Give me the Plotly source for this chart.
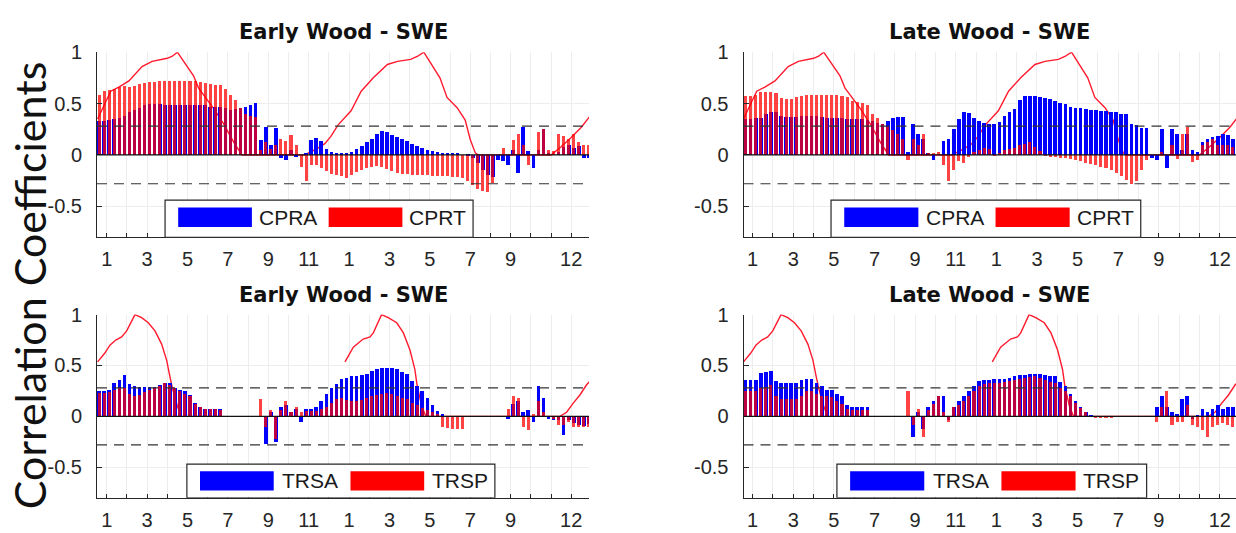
import plotly.graph_objects as go

# ---------------- data ----------------
STEP = 0.25          # bar spacing (months)
FIRST = 0.625        # centre of first bar (months)
N_BARS = 98
bar_x = [FIRST + STEP * k for k in range(N_BARS)]

MONTH_TICKS = list(range(1, 25))
MONTH_LABELS = ["1", "", "3", "", "5", "", "7", "", "9", "", "11", "",
                "1", "", "3", "", "5", "", "7", "", "9", "", "", "12"]
Y_TICKS = [-0.5, 0, 0.5, 1]
Y_LABELS = ["-0.5", "0", "0.5", "1"]
SIG = 0.28

# Early wood (top-left)
CPRA_EW = [0.33, 0.33, 0.34, 0.35, 0.36, 0.38, 0.42, 0.44,
           0.46, 0.48, 0.49, 0.49, 0.49, 0.48, 0.48, 0.48,
           0.48, 0.48, 0.48, 0.48, 0.48, 0.48, 0.47, 0.47,
           0.47, 0.46, 0.44, 0.45, 0.46, 0.47, 0.48, 0.50,
           0.14, 0.27, 0.10, 0.26, -0.03, -0.05, 0.05, -0.02,
           0.00, 0.02, 0.14, 0.16, 0.13, 0.06, 0.03, 0.01,
           0.01, 0.02, 0.03, 0.06, 0.09, 0.12, 0.15, 0.20,
           0.23, 0.22, 0.19, 0.17, 0.15, 0.13, 0.11, 0.09,
           0.07, 0.05, 0.04, 0.03, 0.02, 0.02, 0.01, 0.01,
           0.00, -0.01, -0.03, -0.08, -0.15, -0.20, -0.22, -0.05,
           -0.06, -0.10, 0.05, -0.18, 0.27, 0.04, -0.13, 0.05,
           0.25, 0.02, 0.00, 0.03, 0.08, 0.10, 0.07, 0.09,
           -0.03, -0.03]
CPRT_EW = [0.58, 0.62, 0.63, 0.64, 0.66, 0.67, 0.66, 0.67,
           0.69, 0.70, 0.71, 0.71, 0.72, 0.72, 0.72, 0.72,
           0.72, 0.72, 0.72, 0.72, 0.71, 0.70, 0.69, 0.68,
           0.68, 0.64, 0.58, 0.53, 0.46, 0.40, 0.38, 0.37,
           0.05, 0.12, 0.06, 0.10, 0.15, 0.13, 0.19, 0.10,
           -0.12, -0.25, -0.10, -0.10, -0.13, -0.16, -0.19, -0.20,
           -0.21, -0.23, -0.20, -0.17, -0.15, -0.13, -0.12, -0.11,
           -0.12, -0.14, -0.16, -0.18, -0.19, -0.19, -0.20, -0.20,
           -0.20, -0.20, -0.21, -0.21, -0.21, -0.21, -0.22, -0.22,
           -0.23, -0.25, -0.29, -0.33, -0.35, -0.36, -0.27, 0.00,
           0.07, 0.00, 0.14, 0.20, 0.10, -0.10, 0.00, 0.22,
           0.25, 0.05, 0.04, 0.20, 0.18, 0.15, 0.20, 0.12,
           0.10, 0.10]

# Late wood (top-right)
CPRA_LW = [0.35, 0.35, 0.36, 0.36, 0.40, 0.42, 0.42, 0.38,
           0.37, 0.37, 0.37, 0.38, 0.38, 0.38, 0.38, 0.37,
           0.36, 0.36, 0.36, 0.36, 0.35, 0.35, 0.35, 0.35,
           0.34, 0.33, 0.31, 0.30, 0.33, 0.36, 0.37, 0.37,
           0.03, 0.30, 0.20, 0.15, 0.02, -0.05, 0.00, 0.13,
           0.15, 0.25, 0.35, 0.42, 0.41, 0.36, 0.33, 0.31,
           0.30, 0.30, 0.32, 0.38, 0.42, 0.45, 0.53, 0.57,
           0.57, 0.57, 0.56, 0.55, 0.54, 0.52, 0.50, 0.49,
           0.47, 0.46, 0.46, 0.45, 0.44, 0.44, 0.43, 0.43,
           0.42, 0.42, 0.40, 0.40, 0.30, 0.29, 0.26, 0.26,
           -0.03, -0.05, 0.25, -0.13, 0.25, 0.20, 0.05, 0.20,
           0.05, 0.03, 0.12, 0.15, 0.17, 0.18, 0.20, 0.19,
           0.15, 0.12]
CPRT_LW = [0.57, 0.57, 0.58, 0.61, 0.61, 0.61, 0.60, 0.55,
           0.54, 0.54, 0.56, 0.57, 0.58, 0.58, 0.58, 0.58,
           0.58, 0.58, 0.58, 0.57, 0.56, 0.52, 0.51, 0.50,
           0.48, 0.40, 0.36, 0.30, 0.27, 0.24, 0.20, 0.15,
           -0.05, 0.15, 0.10, 0.20, 0.02, 0.02, 0.03, -0.10,
           -0.25, -0.15, -0.06, -0.08, -0.02, 0.03, 0.05, 0.07,
           0.06, -0.01, 0.02, 0.05, 0.06, 0.07, 0.10, 0.11,
           0.12, 0.08, 0.04, -0.01, -0.02, -0.02, -0.03, -0.03,
           -0.04, -0.05, -0.06, -0.08, -0.09, -0.10, -0.12, -0.13,
           -0.15, -0.18, -0.21, -0.24, -0.28, -0.25, -0.15, -0.05,
           0.00, 0.00, 0.03, 0.00, 0.10, -0.04, 0.20, 0.27,
           -0.07, -0.05, 0.10, 0.12, 0.15, 0.10, 0.10, 0.10,
           0.08, 0.08]

# Early wood (bottom-left)
TRSA_EW = [0.25, 0.25, 0.26, 0.33, 0.36, 0.41, 0.32, 0.30,
           0.29, 0.29, 0.29, 0.29, 0.31, 0.33, 0.33, 0.28,
           0.26, 0.25, 0.21, 0.14, 0.10, 0.08, 0.08, 0.08,
           0.08, 0.00, 0.00, 0.00, 0.00, 0.00, 0.00, 0.00,
           0.00, -0.27, 0.05, -0.25, 0.10, 0.12, 0.05, 0.08,
           -0.05, 0.08, 0.08, 0.10, 0.15, 0.22, 0.28, 0.32,
           0.37, 0.38, 0.40, 0.40, 0.41, 0.42, 0.45, 0.47,
           0.48, 0.48, 0.48, 0.47, 0.44, 0.42, 0.35, 0.30,
           0.25, 0.18, 0.12, 0.06, 0.03, 0.00, 0.00, 0.00,
           0.00, 0.00, 0.00, 0.00, 0.00, 0.00, 0.00, 0.00,
           0.00, -0.02, 0.13, 0.15, 0.05, 0.07, -0.05, 0.30,
           0.18, -0.02, -0.03, -0.03, -0.18, -0.03, -0.06, -0.08,
           -0.09, -0.07]
TRSP_EW = [0.23, 0.23, 0.24, 0.26, 0.28, 0.28, 0.22, 0.20,
           0.21, 0.24, 0.26, 0.28, 0.30, 0.33, 0.31, 0.28,
           0.25, 0.22, 0.20, 0.13, 0.10, 0.08, 0.08, 0.08,
           0.07, 0.00, 0.00, 0.00, 0.00, 0.00, 0.00, 0.00,
           0.17, -0.10, 0.07, -0.22, 0.07, 0.15, 0.05, 0.10,
           0.05, 0.06, 0.06, 0.06, 0.08, 0.10, 0.14, 0.17,
           0.18, 0.16, 0.15, 0.15, 0.16, 0.18, 0.20, 0.21,
           0.22, 0.23, 0.22, 0.20, 0.18, 0.17, 0.14, 0.12,
           0.09, 0.07, 0.05, 0.03, -0.10, -0.11, -0.12, -0.12,
           -0.12, 0.00, 0.00, 0.00, 0.00, 0.00, 0.00, 0.00,
           0.00, 0.08, 0.20, 0.18, -0.10, -0.13, 0.03, 0.15,
           0.05, 0.00, -0.02, -0.08, -0.08, -0.05, -0.10, -0.10,
           -0.10, -0.10]

# Late wood (bottom-right)
TRSA_LW = [0.36, 0.36, 0.36, 0.43, 0.44, 0.45, 0.35, 0.33,
           0.33, 0.33, 0.33, 0.36, 0.37, 0.37, 0.33, 0.30,
           0.26, 0.26, 0.22, 0.20, 0.12, 0.10, 0.10, 0.10,
           0.10, 0.00, 0.00, 0.00, 0.00, 0.00, 0.00, 0.00,
           0.00, -0.20, 0.05, -0.12, 0.10, 0.15, 0.20, 0.20,
           -0.03, 0.10, 0.15, 0.20, 0.25, 0.30, 0.35, 0.36,
           0.36, 0.37, 0.37, 0.37, 0.38, 0.40, 0.41, 0.41,
           0.42, 0.42, 0.42, 0.41, 0.40, 0.40, 0.34, 0.30,
           0.22, 0.15, 0.10, 0.05, 0.02, 0.00, 0.00, 0.00,
           0.00, 0.00, 0.00, 0.00, 0.00, 0.00, 0.00, 0.00,
           0.00, 0.10, 0.20, 0.10, 0.05, 0.03, 0.17, 0.20,
           -0.02, 0.02, 0.08, 0.05, 0.08, 0.12, 0.08, 0.10,
           0.10, 0.10]
TRSP_LW = [0.25, 0.25, 0.25, 0.28, 0.29, 0.31, 0.20, 0.17,
           0.17, 0.17, 0.17, 0.20, 0.25, 0.25, 0.22, 0.20,
           0.20, 0.19, 0.15, 0.13, 0.08, 0.07, 0.07, 0.07,
           0.07, 0.00, 0.00, 0.00, 0.00, 0.00, 0.00, 0.00,
           0.25, -0.08, 0.08, -0.20, 0.07, 0.13, 0.20, 0.05,
           -0.05, 0.10, 0.12, 0.15, 0.20, 0.25, 0.30, 0.32,
           0.33, 0.33, 0.33, 0.34, 0.35, 0.36, 0.37, 0.38,
           0.39, 0.40, 0.38, 0.36, 0.34, 0.33, 0.28, 0.25,
           0.20, 0.14, 0.09, 0.05, 0.01, -0.01, -0.01, -0.01,
           -0.01, 0.00, 0.00, 0.00, 0.00, 0.00, 0.00, 0.00,
           0.00, -0.05, 0.10, 0.25, -0.08, -0.05, -0.05, 0.12,
           -0.08, -0.10, -0.13, -0.20, -0.10, -0.08, -0.06, -0.08,
           -0.10, -0.08]

# normalised SWE curves (red lines)
SWE_TOP_X = [0.55, 1.2, 1.6, 2.1, 2.75, 3.25, 4.0, 4.25, 4.5, 4.9,
             5.3, 5.55, 5.9, 6.3, 6.8, 7.3, 7.7, 10.8, 11.4, 11.8,
             12.1, 12.45, 13.1, 13.6, 14.2, 14.9, 15.4, 16.05, 16.4, 16.7,
             17.05, 17.5, 17.85, 18.35, 18.75, 19.0, 19.25, 19.4, 23.0, 23.5,
             24.0, 24.5, 24.9]
SWE_TOP_Y = [0.35, 0.62, 0.66, 0.72, 0.86, 0.91, 0.94, 0.96, 1.0, 0.89,
             0.77, 0.65, 0.56, 0.45, 0.30, 0.12, 0.0, 0.0, 0.06, 0.11,
             0.18, 0.29, 0.43, 0.62, 0.75, 0.88, 0.91, 0.93, 0.96, 1.0,
             0.89, 0.75, 0.56, 0.46, 0.34, 0.15, 0.02, 0.0, 0.0, 0.08,
             0.17, 0.27, 0.37]
SWE_BOT_X = [0.55, 0.9, 1.16, 1.45, 1.74, 1.99, 2.4, 2.73, 3.06, 3.39,
             3.72, 3.97, 4.13, 4.25, 4.5, 4.7, 8.0, 12.8, 13.21, 13.7,
             14.04, 14.2, 14.61, 14.94, 15.36, 15.69, 16.02, 16.26, 16.38, 16.6,
             16.8, 23.44, 23.77, 24.1, 24.43, 24.76, 24.9]
SWE_BOT_Y = [0.535, 0.62, 0.70, 0.75, 0.78, 0.84, 1.0, 0.97, 0.92, 0.84,
             0.71, 0.55, 0.39, 0.28, 0.10, 0.0, None, 0.535, 0.68, 0.76,
             0.78, 0.82, 1.0, 0.97, 0.92, 0.82, 0.65, 0.46, 0.29, 0.10,
             0.0, 0.0, 0.04, 0.13, 0.21, 0.31, 0.34]

# ---------------- layout helpers ----------------
W, H = 1236, 533
BLUE = "#0000FF"
RED = "rgba(255,0,0,0.74)"
LINE_RED = "#FF1A2E"
AX = "#262626"
Y_RANGE = [-0.8, 1.0]

LEFT_DOM = [97 / W, 589 / W]
RIGHT_DOM = [743.5 / W, 1.0]
TOP_DOM = [1 - 231 / H, 1 - 42 / H]
BOT_DOM = [1 - 497 / H, 1 - 310 / H]

panels = [
    dict(n="", ov="5", title="Early Wood - SWE", a=CPRA_EW, t=CPRT_EW, la="CPRA", lt="CPRT",
         lx=SWE_TOP_X, ly=SWE_TOP_Y, xd=LEFT_DOM, yd=TOP_DOM, xr=[0.52, 24.88],
         leg_l=3.89, leg_top=-0.44, title_y=1 - 21 / H),
    dict(n="2", ov="6", title="Late Wood - SWE", a=CPRA_LW, t=CPRT_LW, la="CPRA", lt="CPRT",
         lx=SWE_TOP_X, ly=SWE_TOP_Y, xd=RIGHT_DOM, yd=TOP_DOM, xr=[0.55, 24.8],
         leg_l=4.86, leg_top=-0.44, title_y=1 - 21 / H),
    dict(n="3", ov="7", title="Early Wood - SWE", a=TRSA_EW, t=TRSP_EW, la="TRSA", lt="TRSP",
         lx=SWE_BOT_X, ly=SWE_BOT_Y, xd=LEFT_DOM, yd=BOT_DOM, xr=[0.52, 24.88],
         leg_l=4.97, leg_top=-0.47, title_y=1 - 290 / H),
    dict(n="4", ov="8", title="Late Wood - SWE", a=TRSA_LW, t=TRSP_LW, la="TRSA", lt="TRSP",
         lx=SWE_BOT_X, ly=SWE_BOT_Y, xd=RIGHT_DOM, yd=BOT_DOM, xr=[0.55, 24.8],
         leg_l=5.15, leg_top=-0.47, title_y=1 - 290 / H),
]

fig = go.Figure()
shapes = []
annotations = []
tick_font = dict(family="Liberation Sans, Arial, sans-serif", size=20, color=AX)

for p in panels:
    xa, ya = "x" + p["n"], "y" + p["n"]
    yb = "y" + p["ov"]          # overlaying axis so bars sit above the SWE line
    line = go.Scatter(x=p["lx"], y=p["ly"], mode="lines", connectgaps=False,
                      line=dict(color=LINE_RED, width=1.4), xaxis=xa, yaxis=ya,
                      showlegend=False, hoverinfo="skip")
    bar_a = go.Bar(x=bar_x, y=p["a"], width=0.18, marker=dict(color=BLUE, line=dict(width=0)),
                   xaxis=xa, yaxis=yb, showlegend=False, name=p["la"])
    bar_t = go.Bar(x=bar_x, y=p["t"], width=0.15, marker=dict(color=RED, line=dict(width=0)),
                   xaxis=xa, yaxis=yb, showlegend=False, name=p["lt"])
    fig.add_traces([line, bar_a, bar_t])

    xkey = "xaxis" + p["n"]
    ykey = "yaxis" + p["n"]
    okey = "yaxis" + p["ov"]
    fig.update_layout({
        xkey: dict(domain=p["xd"], range=p["xr"], anchor=ya, tickmode="array",
                   tickvals=MONTH_TICKS, ticktext=MONTH_LABELS, ticks="inside", ticklen=4,
                   tickcolor=AX, showline=True, linecolor=AX, linewidth=1,
                   showgrid=True, gridcolor="#EDEDED", gridwidth=1, zeroline=False,
                   tickfont=tick_font, ticklabelstandoff=4, fixedrange=True),
        ykey: dict(domain=p["yd"], range=Y_RANGE, anchor=xa, tickmode="array",
                   tickvals=Y_TICKS, ticktext=Y_LABELS, ticks="inside", ticklen=5,
                   tickcolor=AX, showline=True, linecolor=AX, linewidth=1,
                   showgrid=True, gridcolor="#EDEDED", gridwidth=1, zeroline=False,
                   tickfont=tick_font, ticklabelstandoff=10, fixedrange=True),
        okey: dict(overlaying=ya, range=Y_RANGE, anchor=xa, visible=False,
                   showgrid=False, zeroline=False, fixedrange=True),
    })

    xdom = xa + " domain"
    # significance lines and zero line
    for lvl in (SIG, -SIG):
        shapes.append(dict(type="line", xref=xdom, yref=ya, x0=0, x1=1, y0=lvl, y1=lvl,
                           line=dict(color="#333333", width=1.1, dash="10px,7px")))
    shapes.append(dict(type="line", xref=xdom, yref=ya, x0=0, x1=1, y0=0, y1=0,
                       line=dict(color="#111111", width=1.3)))

    # legend box
    L = p["leg_l"]
    top = p["leg_top"]
    sw_top = top - 0.07
    sw_bot = top - 0.26
    ymid = (sw_top + sw_bot) / 2
    shapes.append(dict(type="rect", xref=xa, yref=ya, x0=L, x1=L + 15.25, y0=-0.8, y1=top,
                       fillcolor="white", line=dict(color=AX, width=1.2)))
    shapes.append(dict(type="rect", xref=xa, yref=ya, x0=L + 0.65, x1=L + 4.3,
                       y0=sw_bot, y1=sw_top, fillcolor=BLUE, line=dict(width=0)))
    shapes.append(dict(type="rect", xref=xa, yref=ya, x0=L + 8.1, x1=L + 11.75,
                       y0=sw_bot, y1=sw_top, fillcolor="#FF0000", line=dict(width=0)))
    annotations.append(dict(x=L + 6.1, y=ymid, xref=xa, yref=ya, text=p["la"],
                            showarrow=False, font=dict(family="Liberation Sans, Arial", size=21, color="#1a1a1a")))
    annotations.append(dict(x=L + 13.5, y=ymid, xref=xa, yref=ya, text=p["lt"],
                            showarrow=False, font=dict(family="Liberation Sans, Arial", size=21, color="#1a1a1a")))

    # panel title
    annotations.append(dict(x=0.5, y=p["title_y"], xref=xdom, yref="paper", text="<b>" + p["title"] + "</b>",
                            showarrow=False, yanchor="middle",
                            font=dict(family="DejaVu Sans, Arial", size=21, color="#111111")))

annotations.append(dict(x=29 / W, y=1 - 280 / H, xref="paper", yref="paper",
                        xanchor="center", yanchor="middle",
                        text="Correlation Coefficients", textangle=-90, showarrow=False,
                        font=dict(family="Lato, Carlito, sans-serif", size=43, color="#111111")))

fig.update_layout(
    width=W, height=H, margin=dict(l=0, r=0, t=0, b=0),
    paper_bgcolor="white", plot_bgcolor="white",
    barmode="overlay", bargap=0, showlegend=False,
    shapes=shapes, annotations=annotations,
)

fig.write_html("out.html", config={"displayModeBar": False})
